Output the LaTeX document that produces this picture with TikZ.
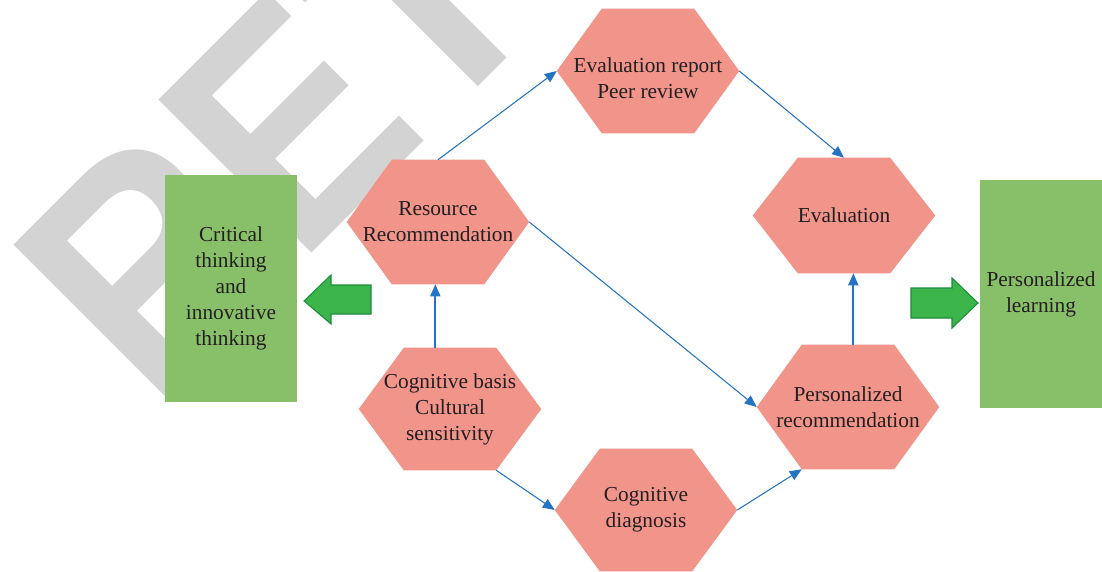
\documentclass[tikz,border=0pt]{standalone}
\usepackage{fontspec}
\usepackage{graphicx}
\setmainfont{Liberation Serif}
\newfontfamily\wmfont{Liberation Sans}
\usetikzlibrary{arrows.meta,backgrounds}

\definecolor{hexred}{RGB}{241,148,138}
\definecolor{boxgreen}{RGB}{136,192,106}
\definecolor{arrowgreen}{RGB}{59,181,74}
\definecolor{arrowedge}{RGB}{30,139,62}
\definecolor{linkblue}{RGB}{37,116,196}
\definecolor{wmgray}{RGB}{211,211,211}
\definecolor{inkgray}{RGB}{35,31,32}

\tikzset{
  hexnode/.style={minimum width=136.5pt, minimum height=93pt, inner sep=0pt, align=center, text=inkgray, font=\fontsize{16}{19.5}\selectfont},
  greenbox/.style={fill=boxgreen, inner sep=0pt, align=center, text=inkgray, font=\fontsize{16}{19.5}\selectfont},
  link/.style={draw=linkblue, line width=0.8pt, -{Triangle[length=9pt,width=7.5pt]}},
  blockarrow/.style={fill=arrowgreen, draw=arrowedge, line width=0.8pt},
}

\begin{document}
\begin{tikzpicture}[x=0.75pt,y=-0.75pt]
\useasboundingbox (0,0) rectangle (1102,571);

\node[hexnode] (er) at (648,71) {\rule{0pt}{21.5pt}Evaluation report\\Peer review};
\node[hexnode] (res) at (438,222) {Resource\\Recommendation};
\node[hexnode, minimum height=86.25pt] (ev) at (844,215.5) {Evaluation};
\node[hexnode, minimum height=91.5pt] (cb) at (450,409) {Cognitive basis\\Cultural\\sensitivity};
\node[hexnode] (pr) at (848,407) {Personalized\\recommendation};
\node[hexnode, minimum height=91.5pt] (cd) at (646,510) {Cognitive\\diagnosis};

\node[greenbox, minimum width=99pt, minimum height=170.25pt] (crit) at (231,288.5) {Critical\\thinking\\and\\innovative\\thinking};
\node[greenbox, minimum width=91.5pt, minimum height=171pt] (pl) at (1041,294) {Personalized\\learning};

% watermark and hexagon fills go behind the text
\begin{pgfonlayer}{background}
  \begin{scope}
    \clip (0,0) rectangle (1102,571);
    \node[text=wmgray, inner sep=0pt, rotate=45, anchor=base west, font=\wmfont\bfseries\fontsize{236}{236}\selectfont] (wm) at (153.4,411.6) {\scalebox{0.9}[1]{RETRACTED}};
  \end{scope}
  \foreach \n in {er,res,ev,cb,pr,cd}
    \fill[hexred] (\n.west) -- ([xshift=33.75pt]\n.north west) -- ([xshift=-33.75pt]\n.north east) -- (\n.east) -- ([xshift=-33.75pt]\n.south east) -- ([xshift=33.75pt]\n.south west) -- cycle;
\end{pgfonlayer}

\draw[link] (res.north) -- (er.west);
\draw[link] (er.east) -- (ev.north);
\draw[link] (res.east) -- (pr.west);
\draw[link, line width=1.3pt] ([xshift=-2pt]res.south |- cb.north) -- ([xshift=-2pt]res.south);
\draw[link] ([xshift=-33.75pt]cb.south east) -- (cd.west);
\draw[link] (cd.east) -- ([xshift=33.75pt]pr.south west);
\draw[link, line width=1.3pt] ([xshift=4pt]pr.north) -- ([xshift=4pt]pr.north |- ev.south);

% green block arrows
\draw[blockarrow] (304,301) -- (331,275) -- (331,285) -- (371,285) -- (371,314) -- (331,314) -- (331,324) -- cycle;
\draw[blockarrow] (978,303) -- (952,278) -- (952,288) -- (911,288) -- (911,318) -- (952,318) -- (952,328) -- cycle;
\end{tikzpicture}
\end{document}
